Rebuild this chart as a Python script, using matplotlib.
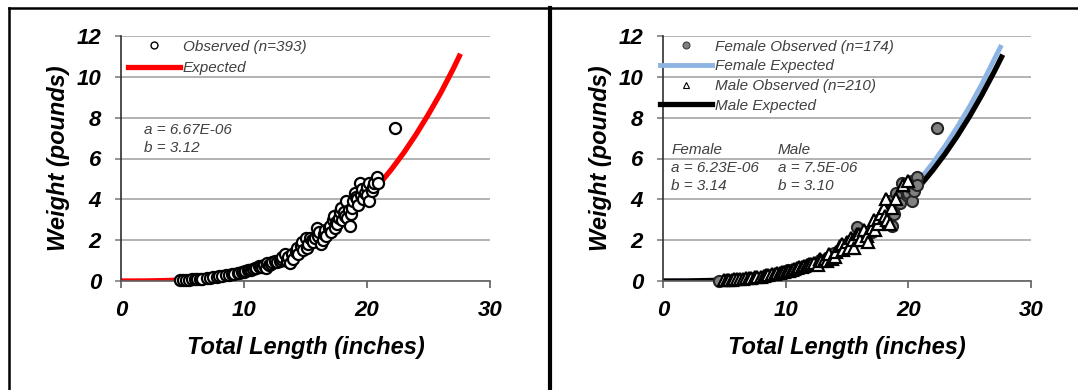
import numpy as np
import matplotlib
matplotlib.use("Agg")
from matplotlib import pyplot as plt
from matplotlib.lines import Line2D

plt.rcParams['font.family'] = ['Liberation Sans', 'DejaVu Sans']

# ---------------- data ----------------
# all fish, observed
obs_len = [4.8, 5.0, 5.3, 5.5, 5.8, 6.0, 6.2, 6.4, 6.6, 7.0, 7.2, 7.5, 7.8, 8.0, 8.2, 8.5, 8.8,
           9.0, 9.2, 9.5, 9.6, 9.8, 10.0, 10.1, 10.3, 10.4, 10.6, 10.7, 10.9, 11.0, 11.2, 11.3,
           11.5, 11.6, 11.8, 11.9, 12.0, 12.2, 12.3, 12.5, 12.7, 12.9, 13.0, 13.1, 13.3, 13.5,
           13.6, 13.7, 13.9, 14.0, 14.2, 14.3, 14.4, 14.6, 14.7, 14.8, 15.0, 15.1, 15.2, 15.4,
           15.5, 15.6, 15.8, 15.9, 16.0, 16.1, 16.3, 16.4, 16.5, 16.6, 16.7, 16.9, 17.0, 17.1,
           17.2, 17.3, 17.4, 17.5, 17.6, 17.7, 17.8, 17.9, 18.0, 18.1, 18.2, 18.3, 18.4, 18.5,
           18.6, 18.7, 18.8, 18.9, 19.0, 19.1, 19.2, 19.3, 19.4, 19.5, 19.6, 19.7, 19.8, 20.0,
           20.0, 20.2, 20.2, 20.4, 20.5, 20.6, 20.8, 20.9, 22.3]
obs_wt = [0.04, 0.05, 0.06, 0.06, 0.08, 0.09, 0.10, 0.11, 0.12, 0.15, 0.17, 0.19, 0.20, 0.23, 0.25,
          0.27, 0.30, 0.33, 0.35, 0.40, 0.40, 0.43, 0.45, 0.50, 0.55, 0.52, 0.55, 0.60, 0.65, 0.62,
          0.75, 0.68, 0.70, 0.80, 0.66, 0.90, 0.80, 0.85, 0.95, 1.00, 0.95, 1.00, 1.10, 1.20, 1.30,
          1.00, 1.20, 0.90, 1.30, 1.10, 1.40, 1.60, 1.30, 1.70, 1.90, 1.50, 2.10, 1.60, 1.80, 2.10,
          2.00, 1.90, 2.10, 2.60, 2.20, 2.40, 1.80, 2.00, 2.30, 2.50, 2.20, 2.60, 2.70, 2.40, 3.00,
          3.20, 2.60, 2.90, 2.80, 3.10, 3.40, 3.60, 3.00, 3.40, 3.20, 3.90, 3.10, 3.50, 2.70, 3.30,
          3.60, 3.90, 4.30, 4.10, 4.00, 3.70, 4.80, 4.20, 4.50, 4.00, 4.30, 4.60, 4.20, 3.90, 4.80,
          4.40, 4.60, 4.80, 5.10, 4.80, 7.50]

# expected curve, all fish (a = 6.67E-06, b = 3.12)
exp_len = [0, 2, 4, 6, 8, 10, 11, 12, 13, 14, 15, 16, 17, 18, 19, 20, 21, 22, 23, 24, 25, 26, 27, 27.6]
exp_wt = [0, 0.003, 0.027, 0.095, 0.233, 0.468, 0.631, 0.828, 1.062, 1.338, 1.66, 2.03, 2.45,
          2.93, 3.47, 4.07, 4.74, 5.48, 6.29, 7.19, 8.17, 9.22, 10.38, 11.13]

# females, observed
fem_len = [4.6, 5.2, 6.0, 7.4, 8.8, 10.2, 11.6, 12.0, 12.8, 13.5, 13.9, 14.4, 14.9, 15.4, 15.8,
           16.3, 16.6, 17.0, 17.3, 17.9, 18.1, 18.2, 18.4, 18.7, 18.8, 19.0, 19.2, 19.3, 19.5,
           19.7, 19.9, 20.0, 20.1, 20.3, 20.3, 20.5, 20.5, 20.7, 20.7, 22.3]
fem_wt = [0.02, 0.05, 0.08, 0.17, 0.30, 0.52, 0.75, 0.85, 1.05, 1.20, 1.35, 1.50, 1.75, 1.80, 2.66,
          2.20, 2.40, 2.40, 2.80, 3.00, 3.40, 3.10, 3.90, 2.70, 3.30, 4.30, 4.10, 3.80, 4.80,
          4.50, 4.20, 4.30, 4.60, 3.90, 4.90, 4.40, 4.80, 5.10, 4.70, 7.50]

# males, observed
male_len = [5.0, 5.2, 5.4, 5.6, 5.8, 6.0, 6.3, 6.5, 6.8, 7.0, 7.2, 7.5, 7.7, 8.0, 8.2, 8.4, 8.6,
            8.9, 9.1, 9.3, 9.5, 9.7, 9.9, 10.1, 10.3, 10.5, 10.7, 10.9, 11.1, 11.3, 11.5, 11.7,
            11.9, 12.1, 12.3, 12.6, 12.8, 12.9, 13.2, 13.4, 13.5, 13.8, 14.0, 14.1, 14.4, 14.6,
            14.7, 15.0, 15.2, 15.3, 15.5, 15.6, 15.8, 16.0, 16.1, 16.4, 16.6, 16.7, 17.0, 17.2,
            17.3, 17.5, 17.6, 17.8, 18.0, 18.1, 18.2, 18.3, 18.5, 18.7, 19.0, 19.6, 20.0]
male_wt = [0.03, 0.04, 0.05, 0.06, 0.08, 0.08, 0.10, 0.12, 0.14, 0.15, 0.17, 0.19, 0.20, 0.22, 0.25,
           0.27, 0.30, 0.32, 0.33, 0.38, 0.40, 0.42, 0.45, 0.50, 0.50, 0.55, 0.60, 0.62, 0.70, 0.68,
           0.75, 0.78, 0.85, 0.82, 0.90, 0.80, 1.10, 1.00, 1.10, 1.00, 1.30, 1.10, 1.20, 1.40, 1.70,
           1.80, 1.50, 1.90, 1.60, 2.10, 2.00, 1.60, 2.30, 2.30, 2.00, 2.50, 2.20, 1.90, 2.60, 3.00,
           2.50, 2.80, 3.10, 3.30, 3.60, 3.20, 4.00, 3.00, 2.80, 3.60, 4.00, 4.70, 4.90]

# expected curves by sex
fem_exp_len = [0, 2, 4, 6, 8, 10, 11, 12, 13, 14, 15, 16, 17, 18, 19, 20, 21, 22, 23, 24, 25, 26, 27, 27.5]
fem_exp_wt = [0, 0.003, 0.028, 0.098, 0.242, 0.488, 0.659, 0.866, 1.113, 1.405, 1.745, 2.137, 2.585,
              3.094, 3.665, 4.307, 5.02, 5.78, 6.62, 7.55, 8.55, 9.65, 10.85, 11.45]
male_exp_len = [0, 2, 4, 6, 8, 10, 11, 12, 13, 14, 15, 16, 17, 18, 19, 20, 21, 22, 23, 24, 25, 26, 27, 27.6]
male_exp_wt = [0, 0.003, 0.028, 0.097, 0.236, 0.471, 0.633, 0.830, 1.063, 1.339, 1.657, 2.024, 2.441,
               2.914, 3.448, 4.042, 4.70, 5.43, 6.23, 7.11, 8.07, 9.12, 10.25, 10.97]

x_ticks = [0, 10, 20, 30]
y_ticks = [0, 2, 4, 6, 8, 10, 12]

txt_col = '#404040'

# ---------------- figure ----------------
W, H = 1078, 390
fig = plt.figure(figsize=(W / 100, H / 100), dpi=100)

def px_axes(l, t, r, b):
    return fig.add_axes([l / W, 1 - b / H, (r - l) / W, (b - t) / H])

def style_axes(ax):
    ax.set_xlim(0, 30)
    ax.set_ylim(0, 12)
    ax.set_xticks(x_ticks)
    ax.set_yticks(y_ticks)
    ax.grid(axis='y', color='#a6a6a6', lw=1.2)
    ax.set_axisbelow(True)
    for s in ['top', 'right']:
        ax.spines[s].set_visible(False)
    ax.spines['left'].set_color('#303030')
    ax.spines['bottom'].set_color('#606060')
    ax.spines['left'].set_linewidth(1.2)
    ax.spines['bottom'].set_linewidth(1.2)
    ax.tick_params(axis='y', length=4.3, width=1.2, color='#808080', pad=10, labelsize=16)
    ax.tick_params(axis='x', length=5, width=1.2, color='#606060', pad=8.5, labelsize=16)
    for lab in ax.get_xticklabels() + ax.get_yticklabels():
        lab.set_fontweight('bold')
        lab.set_fontstyle('italic')
    ax.set_xlabel('Total Length (inches)', fontsize=17, fontweight='bold', fontstyle='italic')
    ax.set_ylabel('Weight (pounds)', fontsize=17, fontweight='bold', fontstyle='italic')
    ax.xaxis.set_label_coords(0.5, -0.27)
    ax.yaxis.set_label_coords(-0.17, 0.5)
    ax.xaxis.label.set_va('center')
    ax.yaxis.label.set_va('center')

# ---- left panel ----
ax1 = px_axes(121, 36, 490, 281)
style_axes(ax1)
ax1.plot(exp_len, exp_wt, color='#ff0000', lw=3.8, solid_capstyle='butt', zorder=2)
ax1.plot(obs_len, obs_wt, ls='none', marker='o', ms=8, mfc='white', mec='black', mew=1.6,
         clip_on=False, zorder=3)
h1 = [Line2D([], [], ls='none', marker='o', ms=5, mfc='white', mec='black', mew=1.0),
      Line2D([], [], color='#ff0000', lw=3.8)]
ax1.legend(h1, ['Observed (n=393)', 'Expected'], loc='upper left', bbox_to_anchor=(0.019, 0.985),
           frameon=False, borderpad=0, borderaxespad=0, handlelength=3.4, handletextpad=0.2,
           labelspacing=0.5, prop={'style': 'italic', 'size': 11}, labelcolor=txt_col)
ax1.text(0.062, 0.616, 'a = 6.67E-06', transform=ax1.transAxes, fontsize=11, style='italic',
         color=txt_col, va='center')
ax1.text(0.062, 0.543, 'b = 3.12', transform=ax1.transAxes, fontsize=11, style='italic',
         color=txt_col, va='center')

# ---- right panel ----
ax2 = px_axes(663, 36, 1031, 281)
style_axes(ax2)
ax2.plot(fem_exp_len, fem_exp_wt, color='#8db4e2', lw=3.5, zorder=2)
ax2.plot(male_exp_len, male_exp_wt, color='black', lw=3.8, zorder=2)
ax2.plot(fem_len, fem_wt, ls='none', marker='o', ms=8, mfc='#808080', mec='#262626', mew=1.5,
         clip_on=False, zorder=3)
ax2.plot(male_len, male_wt, ls='none', marker='^', ms=8.5, mfc='white', mec='black', mew=1.6,
         clip_on=False, zorder=4)
h2 = [Line2D([], [], ls='none', marker='o', ms=5, mfc='#808080', mec='#404040', mew=0.8),
      Line2D([], [], color='#8db4e2', lw=3.5),
      Line2D([], [], ls='none', marker='^', ms=5, mfc='white', mec='black', mew=0.8),
      Line2D([], [], color='black', lw=3.8)]
ax2.legend(h2, ['Female Observed (n=174)', 'Female Expected', 'Male Observed (n=210)', 'Male Expected'],
           loc='upper left', bbox_to_anchor=(-0.008, 0.985), frameon=False, borderpad=0, borderaxespad=0,
           handlelength=3.4, handletextpad=0.2, labelspacing=0.37,
           prop={'style': 'italic', 'size': 11}, labelcolor=txt_col)
for x0, lines in [(0.022, ['Female', 'a = 6.23E-06', 'b = 3.14']),
                  (0.3125, ['Male', 'a = 7.5E-06', 'b = 3.10'])]:
    for i, s in enumerate(lines):
        ax2.text(x0, 0.535 - i * 0.0735, s, transform=ax2.transAxes, fontsize=11, style='italic',
                 color=txt_col, va='center')

# ---- panel borders ----
top = 1 - 7.5 / H
fig.add_artist(Line2D([8.5 / W, 1], [top, top], transform=fig.transFigure, color='black', lw=1.8))
fig.add_artist(Line2D([8.5 / W, 8.5 / W], [0, top], transform=fig.transFigure, color='black', lw=1.8))
fig.add_artist(Line2D([549.5 / W, 549.5 / W], [0, top], transform=fig.transFigure, color='black', lw=3.0))

fig.savefig('out.png', dpi=100)
